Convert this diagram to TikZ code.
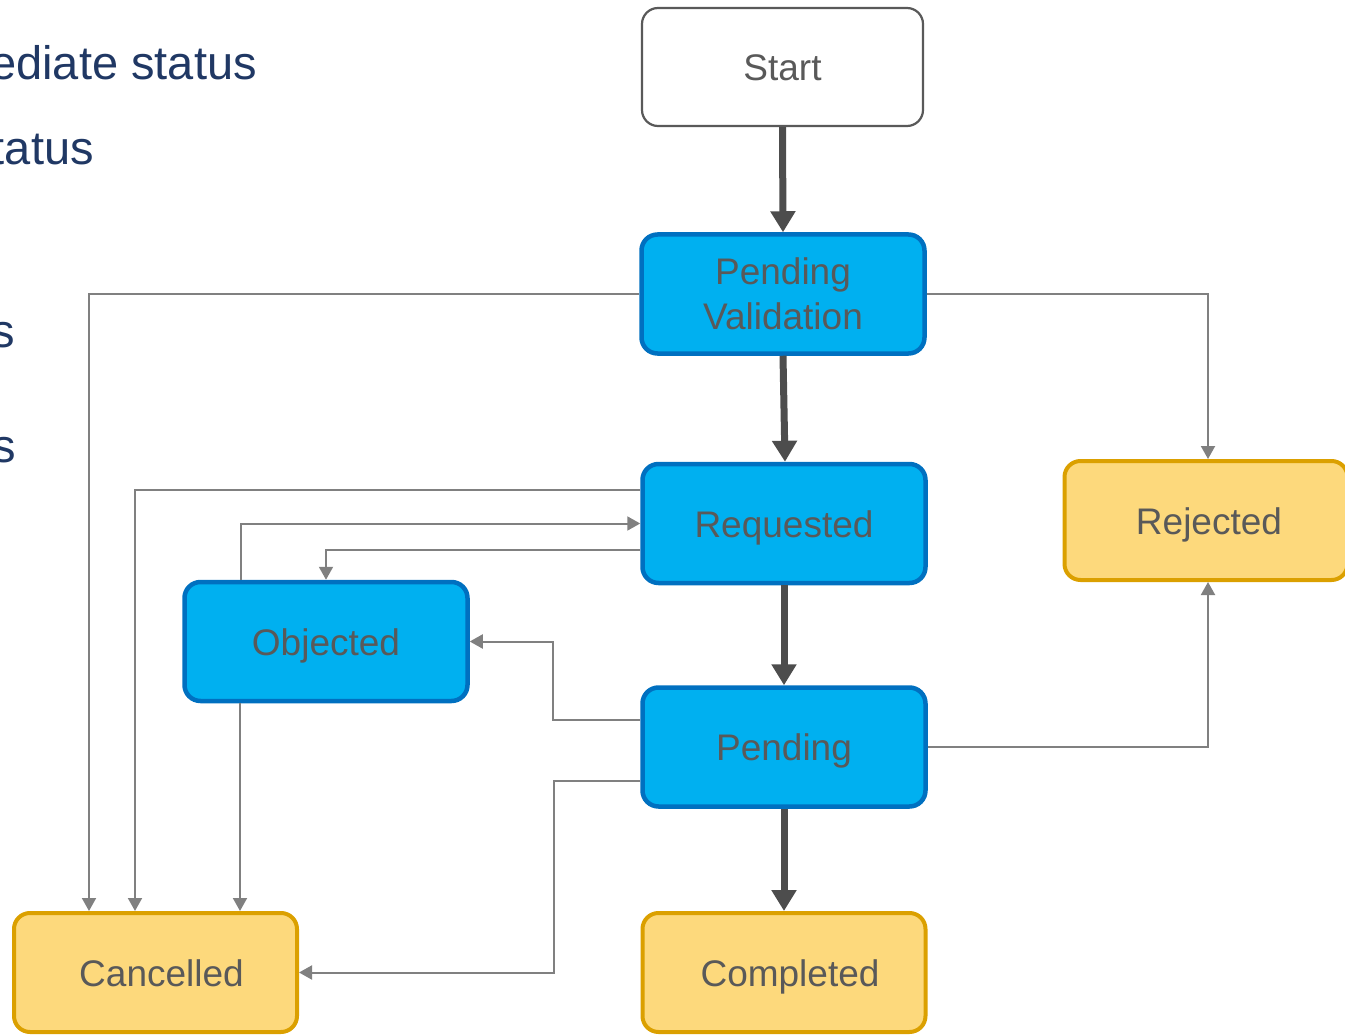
\documentclass[tikz,border=0pt]{standalone}
\usepackage{fontspec}
\setmainfont{Liberation Sans}
\usetikzlibrary{arrows.meta,calc}
\definecolor{bluefill}{HTML}{00B0F0}
\definecolor{blueline}{HTML}{0070C0}
\definecolor{yelfill}{HTML}{FDD97C}
\definecolor{yelline}{HTML}{DBA000}
\definecolor{txtgray}{HTML}{595959}
\definecolor{navy}{HTML}{203864}
\definecolor{conngray}{HTML}{808080}
\definecolor{thickgray}{HTML}{4D4D4D}
\tikzset{
  box/.style={rectangle, rounded corners=16pt, minimum width=283pt, minimum height=119pt,
    inner sep=0pt, align=center, text=txtgray, font=\fontsize{37}{45}\selectfont},
  oneline/.style={text height=27pt, text depth=0pt},
  startbox/.style={box, oneline, draw=txtgray, line width=2.2pt, fill=white, minimum width=281pt, minimum height=118pt},
  bluebox/.style={box, draw=blueline, line width=4.5pt, fill=bluefill},
  yelbox/.style={box, oneline, draw=yelline, line width=4pt, fill=yelfill},
  conn/.style={draw=conngray, line width=2pt, -{Triangle[length=13pt,width=14pt]}},
  mainflow/.style={draw=thickgray, line width=7pt, -{Triangle[length=21pt,width=24pt]}},
  sidetext/.style={inner sep=0pt, text=navy, font=\fontsize{47}{56}\selectfont}
}
\begin{document}
\begin{tikzpicture}[x=1pt,y=-1pt]
\useasboundingbox (0,0) rectangle (1345,1035);
\clip (0,0) rectangle (1345,1035);
% side texts (clipped at the left edge, as in the reference)
\node[sidetext, anchor=base east] (t1) at (257,80) {ediate status};
\node[sidetext, anchor=base east] (t2) at (94,165) {tatus};
\node[sidetext, anchor=base east] (t3) at (15,347) {s};
\node[sidetext, anchor=base east] (t4) at (16,462) {s};
% nodes
\node[startbox] (start) at (782.5,67) {Start};
\node[bluebox] (pv) at (783,294) {Pending\\Validation};
\node[bluebox, oneline] (req) at (784,523.5) {Requested};
\node[bluebox, oneline] (obj) at (326,641.5) {Objected};
\node[bluebox, oneline] (pend) at (784,747) {Pending};
\node[yelbox] (rej) at (1206,520.5) {\hspace*{6pt}Rejected};
\node[yelbox] (can) at (155.5,972.5) {\hspace*{12pt}Cancelled};
\node[yelbox] (comp) at (784,972.5) {\hspace*{12pt}Completed};
% main flow
\draw[mainflow] (start.south) -- (pv.north);
\draw[mainflow] (pv.south) -- ([xshift=1pt]req.north);
\draw[mainflow] (req.south) -- (pend.north);
\draw[mainflow] (pend.south) -- (comp.north);
% side connectors
\draw[conn] (pv.west) -| ([xshift=-66.5pt]can.north);
\draw[conn] (pv.east) -| ([xshift=2pt]rej.north);
\draw[conn] ([yshift=33.5pt]req.west) -| ([xshift=-20.5pt]can.north);
\draw[conn] ([xshift=-85pt]obj.north) |- (req.west);
\draw[conn] ([yshift=-26.5pt]req.west) -| (obj.north);
\draw[conn] ([yshift=27pt]pend.west) -- ++(-87,0) |- (obj.east);
\draw[conn] ([yshift=-34pt]pend.west) -- ++(-86,0) |- (can.east);
\draw[conn] (pend.east) -| ([xshift=2pt]rej.south);
\draw[conn] ([xshift=-86pt]obj.south) -- ([xshift=84.5pt]can.north);
\end{tikzpicture}
\end{document}
